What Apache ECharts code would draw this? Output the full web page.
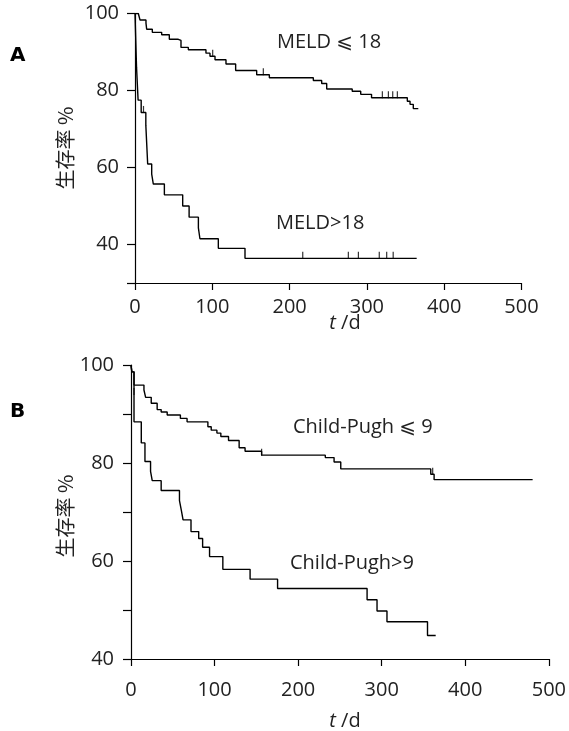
<!DOCTYPE html>
<html>
<head>
<meta charset="utf-8">
<script src="https://cdn.jsdelivr.net/npm/echarts@6/dist/echarts.min.js"></script>
<style>
  html, body { margin: 0; padding: 0; background: #fff; }
  #chart { width: 569px; height: 731px; }
</style>
</head>
<body>
<div id="chart"></div>
<script>
  // panel A: MELD <= 18
  const meldLowT = [0, 4.3, 6.5, 14.2, 15.1, 22.4, 34.5, 44.4, 56, 59.5, 69, 91.8, 97, 103.5, 117.7, 130.2, 157.4, 173.8, 230.7, 241.5, 248, 281, 292, 306, 352.3, 355.8, 360, 366.5]
  const meldLowS = [100, 99.6, 98.3, 97.5, 95.9, 95.1, 94.5, 93.3, 93, 91.2, 90.6, 89.7, 88.9, 88, 86.9, 85.2, 84.1, 83.3, 82.6, 81.8, 80.4, 79.8, 79, 78.1, 77.2, 76.4, 75.3, 75.3]
  const meldLowCensT = [100.5, 166, 320, 327.8, 333.4, 339.4]
  const meldLowCensS = [88.9, 84.1, 78.1, 78.1, 78.1, 78.1]

  // panel A: MELD > 18
  const meldHighT = [0, 2, 4, 8, 14, 16.4, 21.6, 23.7, 38, 61.7, 70, 82, 84, 107.8, 142.3, 364.4]
  const meldHighS = [100, 86, 77.5, 74.3, 71, 60.9, 58.3, 55.7, 52.9, 50, 47.1, 44.3, 41.5, 39, 36.4, 36.4]
  const meldHighCensT = [11, 217, 276, 289, 316, 325.6, 334]
  const meldHighCensS = [74.3, 36.4, 36.4, 36.4, 36.4, 36.4, 36.4]

  // panel B: Child-Pugh <= 9
  const cpLowT = [0, 1, 3.6, 15.5, 17.5, 24.2, 31.3, 36.1, 43.3, 59.1, 67.1, 92, 96, 102.8, 107.5, 116.7, 129.4, 136.5, 156.3, 232.5, 243, 251, 358.7, 362.7, 480.6]
  const cpLowS = [100, 98.6, 95.9, 94.9, 93.4, 92.2, 90.9, 90.4, 89.8, 89.1, 88.4, 87.4, 86.7, 86.1, 85.4, 84.6, 83.1, 82.4, 81.6, 81.1, 80.2, 78.8, 77.7, 76.6, 76.6]
  const cpLowCensT = [3.6, 156.3, 361]
  const cpLowCensS = [94, 81.6, 77.7]

  // panel B: Child-Pugh > 9
  const cpHighT = [0, 1, 3.6, 12.3, 16.7, 23.4, 25.4, 36.1, 58, 60.3, 62.3, 71.8, 81, 85.7, 94, 109.9, 142.5, 175.4, 282.5, 294.4, 306.3, 354.8, 364.6]
  const cpHighS = [100, 98.6, 88.4, 84.1, 80.3, 78.3, 76.4, 74.4, 72.3, 70.3, 68.4, 66, 64.6, 62.8, 60.9, 58.3, 56.3, 54.4, 52.1, 49.8, 47.6, 44.8, 44.8]

  const xTicks = [0, 100, 200, 300, 400, 500]
  const yTicksA = [30, 40, 60, 80, 100]
  const yLabelsA = [40, 60, 80, 100]
  const yTicksB = [40, 50, 60, 70, 80, 90, 100]
  const yLabelsB = [40, 60, 80, 100]

  const font = '"Open Sans", "DejaVu Sans", sans-serif'
  const cjk = '"Noto Sans CJK SC", sans-serif'

  function pairs(xs, ys) {
    return xs.map((x, i) => [x, ys[i]])
  }

  function kmLine(idx, xs, ys) {
    return {
      type: 'line', step: 'end', xAxisIndex: idx, yAxisIndex: idx,
      data: pairs(xs, ys), showSymbol: false, silent: true,
      lineStyle: { color: '#000', width: 1.4 },
    }
  }

  function censor(idx, xs, ys) {
    return {
      type: 'scatter', xAxisIndex: idx, yAxisIndex: idx,
      data: pairs(xs, ys), symbol: 'rect', symbolSize: [1.2, 7], symbolOffset: [0, -3],
      itemStyle: { color: '#000' }, silent: true,
    }
  }

  function xAxis(idx, margin) {
    return {
      type: 'value', gridIndex: idx, min: 0, max: 500,
      axisLine: { lineStyle: { color: '#000', width: 1.2 } },
      axisTick: { customValues: xTicks, length: 7, lineStyle: { color: '#000', width: 1.2 } },
      axisLabel: { customValues: xTicks, margin: margin, color: '#222', fontSize: 20, fontFamily: font },
      splitLine: { show: false },
    }
  }

  function yAxis(idx, min, ticks, labels, margin) {
    return {
      type: 'value', gridIndex: idx, min: min, max: 100,
      axisLine: { show: true, lineStyle: { color: '#000', width: 1.2 } },
      axisTick: { show: true, customValues: ticks, length: 8, lineStyle: { color: '#000', width: 1.2 } },
      axisLabel: { customValues: labels, margin: margin, color: '#222', fontSize: 20, fontFamily: font },
      splitLine: { show: false },
    }
  }

  function label(x, y, text, extra) {
    return {
      type: 'text', x: x, y: y, silent: true,
      style: Object.assign({ text: text, fill: '#222', font: '20px ' + font, textAlign: 'left', textVerticalAlign: 'middle' }, extra || {}),
    }
  }

  function yTitle(x, y) {
    return {
      type: 'text', x: x, y: y, rotation: Math.PI / 2, silent: true,
      style: { text: '生存率 %', fill: '#222', font: '20px ' + cjk, textAlign: 'center', textVerticalAlign: 'middle' },
    }
  }

  function xTitle(x, y) {
    return {
      type: 'text', x: x, y: y, silent: true,
      style: {
        text: '{i|t} /d', fill: '#222', font: '20px ' + font, textAlign: 'center', textVerticalAlign: 'middle',
        rich: { i: { fontStyle: 'italic', fontSize: 20, fontFamily: font, fill: '#222' } },
      },
    }
  }

  const chart = echarts.init(document.getElementById('chart'))
  chart.setOption({
    animation: false,
    backgroundColor: '#fff',
    grid: [
      { left: 135, top: 13.5, width: 386.5, height: 269.5 },
      { left: 131, top: 365, width: 421.3, height: 294 },
    ],
    xAxis: [xAxis(0, 14), xAxis(1, 21)],
    yAxis: [yAxis(0, 30, yTicksA, yLabelsA, 16), yAxis(1, 40, yTicksB, yLabelsB, 17)],
    series: [
      kmLine(0, meldLowT, meldLowS),
      kmLine(0, meldHighT, meldHighS),
      censor(0, meldLowCensT, meldLowCensS),
      censor(0, meldHighCensT, meldHighCensS),
      kmLine(1, cpLowT, cpLowS),
      kmLine(1, cpHighT, cpHighS),
      censor(1, cpLowCensT, cpLowCensS),
    ],
    graphic: [
      label(10, 56, 'A', { font: 'bold 20px "DejaVu Sans", sans-serif', fill: '#000' }),
      label(10, 412, 'B', { font: 'bold 20px "DejaVu Sans", sans-serif', fill: '#000' }),
      label(277, 42, 'MELD ⩽ 18'),
      label(276, 223, 'MELD>18'),
      label(293, 427, 'Child-Pugh ⩽ 9'),
      label(290, 563, 'Child-Pugh>9'),
      yTitle(65, 148),
      yTitle(65, 516),
      xTitle(345, 323),
      xTitle(345, 721),
    ],
  })
</script>
</body>
</html>
